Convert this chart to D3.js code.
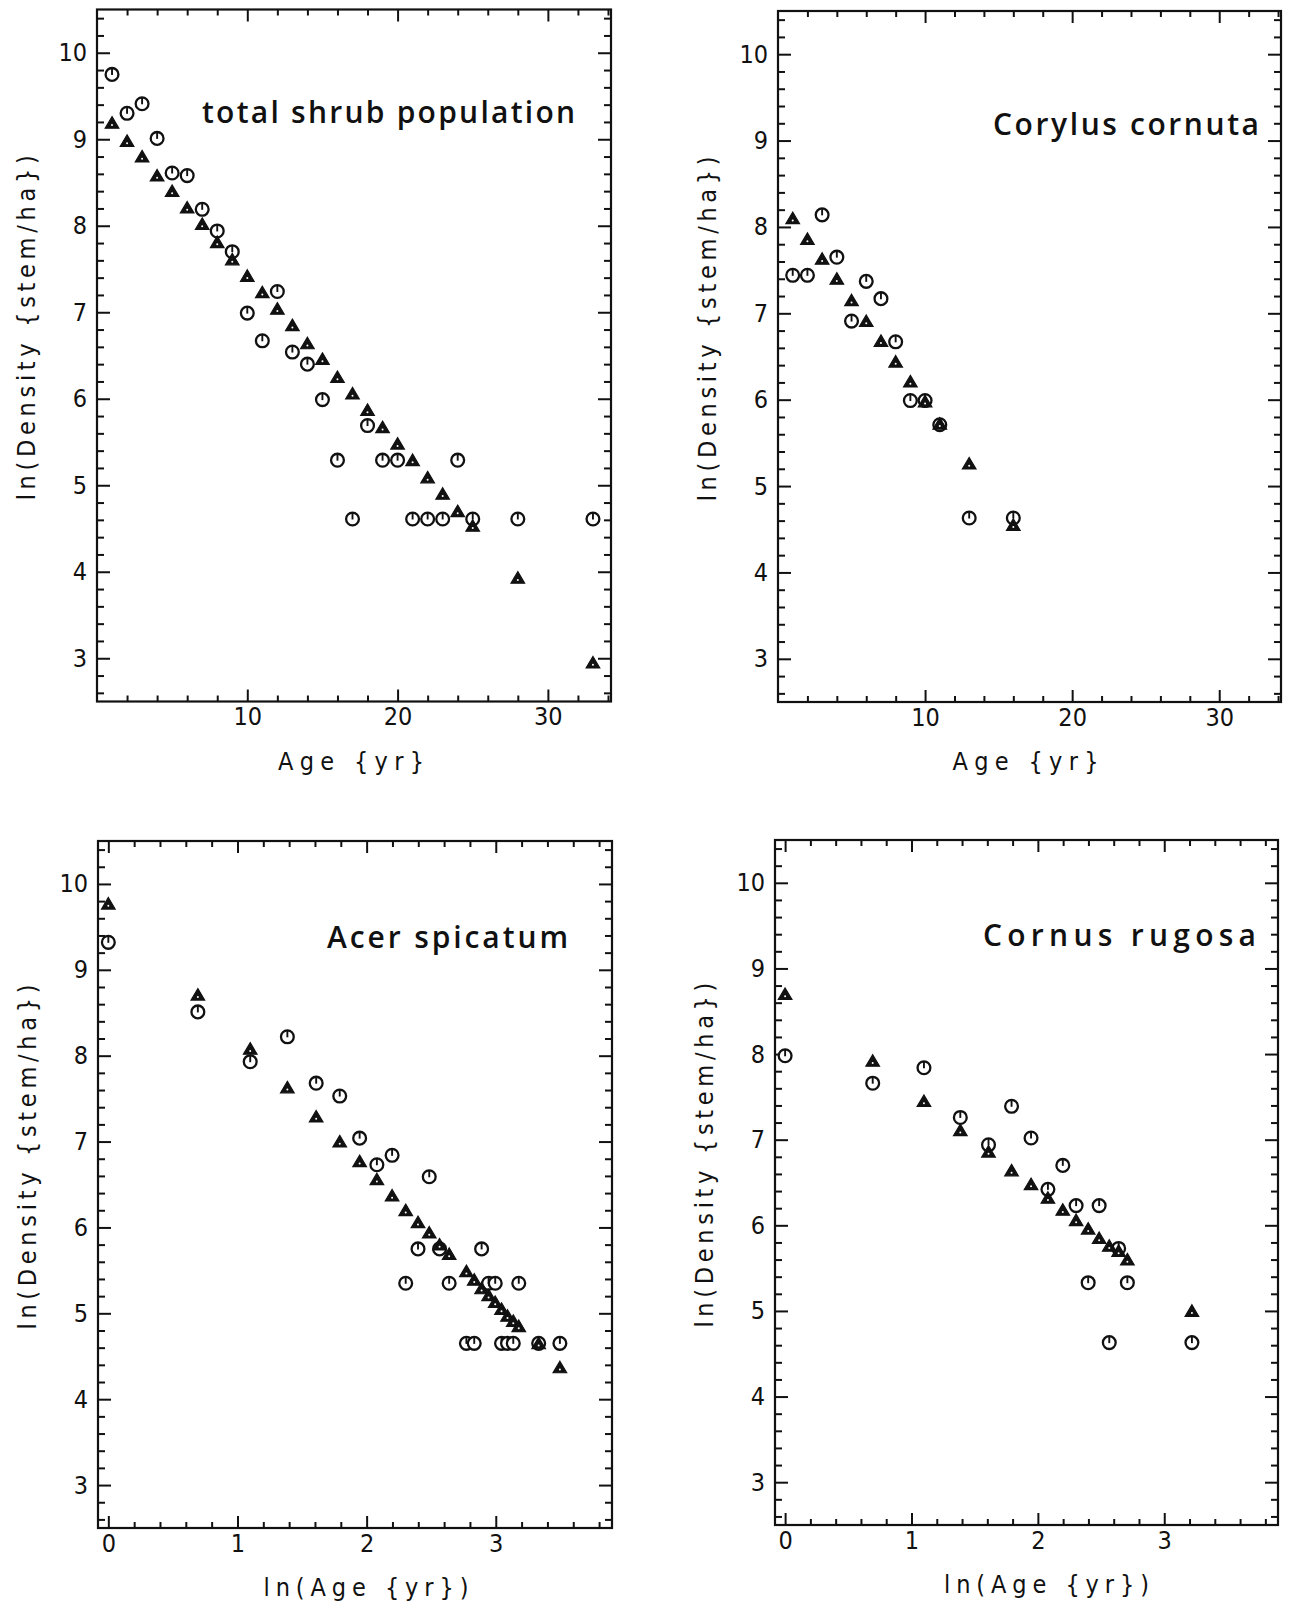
<!DOCTYPE html>
<html><head><meta charset="utf-8">
<script src="https://cdn.jsdelivr.net/npm/d3@7"></script>
<style>
body{margin:0;background:#fff;}
svg{display:block;}
.lbl{font-family:'DejaVu Sans Condensed','DejaVu Sans',sans-serif;font-stretch:condensed;fill:#111;}
.ttl{font-family:'Open Sans','Noto Sans',sans-serif;font-weight:600;fill:#111;}
</style></head><body>
<svg id="chart" width="1297" height="1605"></svg>
<script>
// ---- tick labels ----
const yTickValues = [3,4,5,6,7,8,9,10];
const ageTickValues = [10,20,30];
const lnAgeTickValues = [0,1,2,3];

// ---- total shrub population (x = age) ----
const shrubAge  = [1,2,3,4,5,6,7,8,9,10,11,12,13,14,15,16,17,18,19,20,21,22,23,24,25,28,33];
const shrubTri  = [9.18,8.97,8.79,8.57,8.39,8.20,8.01,7.80,7.60,7.41,7.22,7.03,6.84,6.63,6.45,6.24,6.05,5.86,5.66,5.47,5.28,5.08,4.89,4.69,4.52,3.92,2.94];
const shrubCirc = [9.75,9.30,9.41,9.01,8.61,8.58,8.19,7.94,7.70,6.99,6.67,7.24,6.54,6.40,5.99,5.29,4.61,5.69,5.29,5.29,4.61,4.61,4.61,5.29,4.61,4.61,4.61];

// ---- Corylus cornuta (x = age) ----
const corylusAge  = [1,2,3,4,5,6,7,8,9,10,11,13,16];
const corylusTri  = [8.09,7.85,7.62,7.39,7.14,6.90,6.67,6.43,6.20,5.97,5.71,5.25,4.54];
const corylusCirc = [7.44,7.44,8.14,7.65,6.91,7.37,7.17,6.67,5.99,5.99,5.71,4.63,4.63];

// ---- Acer spicatum (x = ln age) ----
const acerAge  = [1,2,3,4,5,6,7,8,9,10,11,12,13,14,16,17,18,19,20,21,22,23,24,28,33];
const acerTri  = [9.76,8.70,8.07,7.62,7.28,6.99,6.76,6.55,6.36,6.19,6.05,5.93,5.79,5.68,5.48,5.38,5.28,5.20,5.12,5.04,4.96,4.90,4.84,4.64,4.36];
const acerCirc = [9.32,8.51,7.93,8.22,7.68,7.53,7.04,6.73,6.84,5.35,5.75,6.59,5.75,5.35,4.65,4.65,5.75,5.35,5.35,4.65,4.65,4.65,5.35,4.65,4.65];

// ---- Cornus rugosa (x = ln age) ----
const cornusAge  = [1,2,3,4,5,6,7,8,9,10,11,12,13,14,15,25];
const cornusTri  = [8.69,7.91,7.44,7.10,6.85,6.63,6.47,6.31,6.17,6.05,5.95,5.84,5.75,5.69,5.59,4.99];
const cornusCirc = [7.98,7.66,7.84,7.26,6.94,7.39,7.02,6.42,6.70,6.23,5.33,6.23,4.63,5.73,5.33,4.63];

const titles = ["total shrub population","Corylus cornuta","Acer spicatum","Cornus rugosa"];
const yTitle = "ln(Density {stem/ha})";
const xTitles = ["Age {yr}","Age {yr}","ln(Age {yr})","ln(Age {yr})"];

const panels = [
  {title:titles[0], xTitle:xTitles[0], log:false, age:shrubAge, tri:shrubTri, circ:shrubCirc,
   box:{x:97,y:9.5,w:514,h:692}, xDom:[0,34.2], t:{x1:202,x2:575,y:123}, xt:{w:146,dx:-3}},
  {title:titles[1], xTitle:xTitles[1], log:false, age:corylusAge, tri:corylusTri, circ:corylusCirc,
   box:{x:778,y:11,w:503,h:691}, xDom:[0,34.2], t:{x1:993,x2:1259,y:135}, xt:{w:146,dx:-4}},
  {title:titles[2], xTitle:xTitles[2], log:true, age:acerAge, tri:acerTri, circ:acerCirc,
   box:{x:98,y:841,w:514,h:687}, xDom:[-0.08,3.9], t:{x1:327,x2:568,y:948}, xt:{w:205,dx:11}},
  {title:titles[3], xTitle:xTitles[3], log:true, age:cornusAge, tri:cornusTri, circ:cornusCirc,
   box:{x:775,y:840,w:503,h:685}, xDom:[-0.08,3.9], t:{x1:983,x2:1256,y:946}, xt:{w:205,dx:20}}
];

const svg = d3.select("#chart");
const yMinor = d3.range(13,53).map(i=>i/5).filter(v=>Math.abs(v-Math.round(v))>1e-6);
const ageMinor = d3.range(2,35,2).filter(v=>v%10!==0);
const lnMinor = d3.range(0,20).map(i=>i/5).filter(v=>Math.abs(v-Math.round(v))>1e-6);

panels.forEach(p=>{
  const b = p.box;
  const g = svg.append("g").attr("transform",`translate(${b.x},${b.y})`);
  const x = d3.scaleLinear().domain(p.xDom).range([0,b.w]);
  const y = d3.scaleLinear().domain([2.5,10.5]).range([b.h,0]);
  const major = p.log ? lnAgeTickValues : ageTickValues;
  const minor = p.log ? lnMinor : ageMinor;
  const fmt = d3.format("d");

  const ax = (gen, tr) => {
    const a = g.append("g").attr("transform",tr||null).call(gen);
    a.select(".domain").remove();
    a.selectAll("line").attr("stroke","#111").attr("stroke-width",2);
    a.selectAll("text").attr("class","lbl").attr("font-size",25).attr("fill","#111");
    return a;
  };
  ax(d3.axisLeft(y).tickValues(yTickValues).tickSize(-13).tickPadding(10).tickFormat(fmt));
  ax(d3.axisLeft(y).tickValues(yMinor).tickSize(-7).tickFormat(""));
  ax(d3.axisRight(y).tickValues(yTickValues).tickSize(-13).tickFormat(""),`translate(${b.w},0)`);
  ax(d3.axisRight(y).tickValues(yMinor).tickSize(-7).tickFormat(""),`translate(${b.w},0)`);
  ax(d3.axisBottom(x).tickValues(major).tickSize(-12).tickPadding(6).tickFormat(fmt),`translate(0,${b.h})`);
  ax(d3.axisBottom(x).tickValues(minor).tickSize(-6).tickFormat(""),`translate(0,${b.h})`);
  ax(d3.axisTop(x).tickValues(major).tickSize(-12).tickFormat(""));
  ax(d3.axisTop(x).tickValues(minor).tickSize(-6).tickFormat(""));

  g.append("rect").attr("x",0).attr("y",0).attr("width",b.w).attr("height",b.h)
    .attr("fill","none").attr("stroke","#111").attr("stroke-width",2.2);

  g.append("text").attr("class","lbl").attr("font-size",25)
    .attr("transform",`translate(-62,${b.h*0.46}) rotate(-90)`)
    .attr("text-anchor","middle")
    .attr("textLength",345).attr("lengthAdjust","spacing")
    .text(yTitle);
  g.append("text").attr("class","lbl").attr("font-size",25)
    .attr("x",b.w*0.5 + p.xt.dx).attr("y",b.h+68).attr("text-anchor","middle")
    .attr("textLength",p.xt.w).attr("lengthAdjust","spacing")
    .text(p.xTitle);

  svg.append("text").attr("class","ttl").attr("font-size",30)
    .attr("x",p.t.x1).attr("y",p.t.y)
    .attr("textLength",p.t.x2-p.t.x1).attr("lengthAdjust","spacing")
    .text(p.title);

  const xv = a => p.log ? Math.log(a) : a;
  const triData = p.age.map((a,i)=>({x:xv(a),y:p.tri[i]}));
  const circData = p.age.map((a,i)=>({x:xv(a),y:p.circ[i]}));

  const cg = g.append("g");
  circData.forEach(d=>{
    const m = cg.append("g").attr("transform",`translate(${x(d.x)},${y(d.y)})`);
    m.append("circle").attr("r",6.4).attr("fill","#fff").attr("stroke","#111").attr("stroke-width",2.3);
    m.append("line").attr("x1",0).attr("y1",-6.4).attr("x2",0).attr("y2",0.5).attr("stroke","#111").attr("stroke-width",1.9);
  });
  const tg = g.append("g");
  triData.forEach(d=>{
    const m = tg.append("g").attr("transform",`translate(${x(d.x)},${y(d.y)})`);
    m.append("path").attr("d","M0,-7L6.8,4.5L-6.8,4.5Z").attr("fill","#111").attr("stroke","#111").attr("stroke-width",1.2);
    m.append("circle").attr("cx",0).attr("cy",1.3).attr("r",1).attr("fill","#fff");
  });
});
</script>
</body></html>
